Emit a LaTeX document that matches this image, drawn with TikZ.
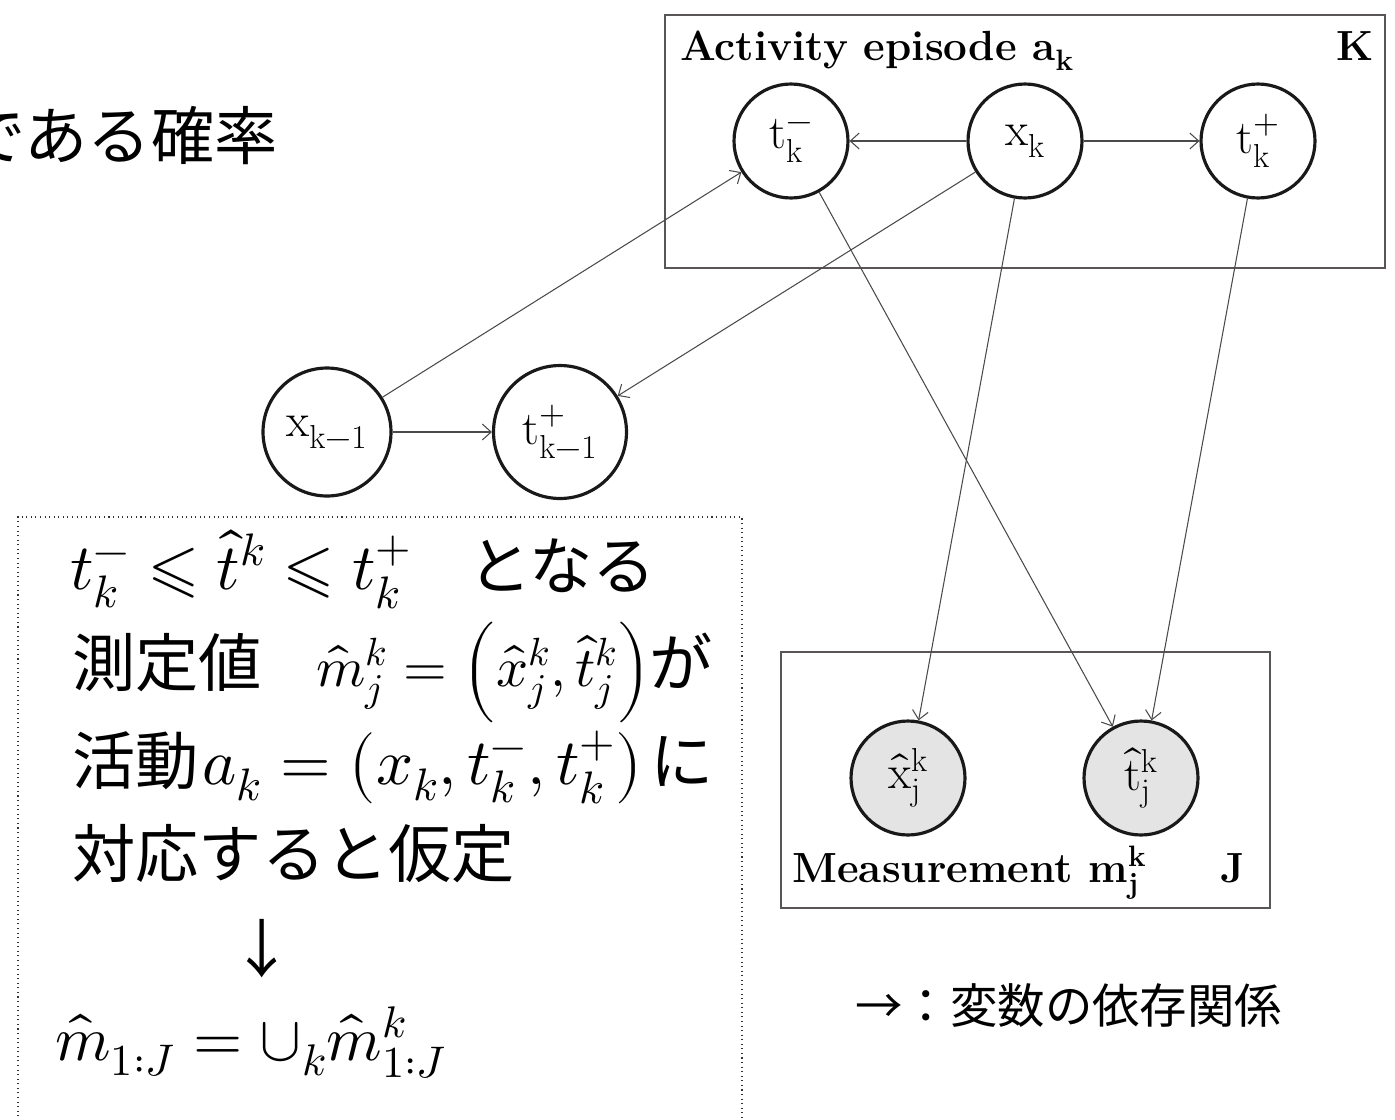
\documentclass[tikz,border=0pt]{standalone}
\usepackage{fontspec}
\usepackage{unicode-math}
\setmathfont{Latin Modern Math}
\newfontfamily\jp{Noto Sans CJK JP}
\usetikzlibrary{arrows.meta}
\definecolor{edgegray}{HTML}{4A4A4A}
\definecolor{boxgray}{HTML}{5A5555}
\definecolor{obsfill}{HTML}{E4E4E4}
\tikzset{
  var/.style={circle,draw=black!90,line width=1.8pt,minimum size=2.28cm,inner sep=0pt,font=\fontsize{27}{30}\selectfont},
  obs/.style={var,fill=obsfill},
  dep/.style={draw=edgegray,line width=0.6pt,-{Straight Barb[length=5pt,width=9pt]}},
  plate/.style={draw=boxgray,line width=1.1pt},
  platelabel/.style={anchor=base west,inner sep=0pt,font=\fontsize{24}{26}\selectfont\bfseries},
  jptext/.style={anchor=base west,inner sep=0pt,font=\fontsize{36}{40}\selectfont\jp},
  mtext/.style={anchor=base west,inner sep=0pt,font=\fontsize{37}{42}\selectfont},
}
\begin{document}
\begin{tikzpicture}[x=0.02cm,y=-0.02cm]
\useasboundingbox (0,0) rectangle (1395,1119);
% top-left cut text
\node[anchor=base east,inner sep=0pt,font=\fontsize{36}{40}\selectfont\jp] (toptext) at (278,159) {である確率};
% Activity plate
\draw[plate] (665,15) rectangle (1385,268);
\node[platelabel] (actlabel) at (680,60) {Activity episode $\mathbf{a}_{\mathbf{k}}$};
\node[platelabel] (Klabel) at (1336,60) {K};
% nodes
\node[var] (tkm) at (791,141) {$\mathrm{t}_{\mathrm{k}}^{-}$};
\node[var] (xk) at (1025,141) {$\mathrm{x}_{\mathrm{k}}$};
\node[var] (tkp) at (1258,141) {$\mathrm{t}_{\mathrm{k}}^{+}$};
\node[var,minimum size=2.56cm] (xkm1) at (327,432) {$\mathrm{x}_{\mathrm{k-1}}$};
\node[var,minimum size=2.66cm] (tkm1p) at (560,432) {$\mathrm{t}_{\mathrm{k-1}}^{+}$};
% Measurement plate
\draw[plate] (781,652) rectangle (1270,908);
\node[obs] (xhat) at (908,778) {$\hat{\mathrm{x}}_{\mathrm{j}}^{\mathrm{k}}$};
\node[obs] (that) at (1141,778) {$\hat{\mathrm{t}}_{\mathrm{j}}^{\mathrm{k}}$};
\node[platelabel] (measlabel) at (792,882) {Measurement $\mathbf{m}_{\mathbf{j}}^{\mathbf{k}}$};
\node[platelabel] (Jlabel) at (1220,882) {J};
% edges
\draw[dep] (xk) -- (tkm);
\draw[dep] (xk) -- (tkp);
\draw[dep] (xkm1) -- (tkm);
\draw[dep] (xk) -- (tkm1p);
\draw[dep] (xkm1) -- (tkm1p);
\draw[dep] (tkm) -- (that);
\draw[dep] (xk) -- (xhat);
\draw[dep] (tkp) -- (that);
% dotted box
\draw[draw=black!80,line width=0.6pt,dotted] (18,1130) -- (18,517) -- (742,517) -- (742,1130);
\node[mtext] (m1) at (70,589) {$t_k^{-}\leqslant \hat{t}^{k}\leqslant t_k^{+}$};
\node[jptext] (j1) at (468,589) {となる};
\node[jptext] (j2a) at (72,686) {測定値};
\node[mtext,font=\fontsize{32}{36}\selectfont] (m2) at (316,686) {$\hat{m}_j^k=\Bigl(\hat{x}_j^k,\hat{t}_j^k\Bigr)$};
\node[jptext] (j2b) at (649,686) {が};
\node[jptext] (j3a) at (72,784) {活動};
\node[mtext] (m3) at (202,784) {$a_k=\left(x_k,t_k^{-},t_k^{+}\right)$};
\node[jptext] (j3b) at (650,784) {に};
\node[jptext] (line4) at (72,877) {対応すると仮定};
\node[jptext,anchor=base] (downarrow) at (262,972) {↓};
\node[mtext,font=\fontsize{36}{40}\selectfont] (m6) at (55,1060) {$\hat{m}_{1:J}=\cup_k\hat{m}_{1:J}^k$};
% legend
\node[anchor=base west,inner sep=0pt,font=\fontsize{27}{30}\selectfont\jp] (legend) at (855,1023) {→：変数の依存関係};
\end{tikzpicture}
\end{document}
